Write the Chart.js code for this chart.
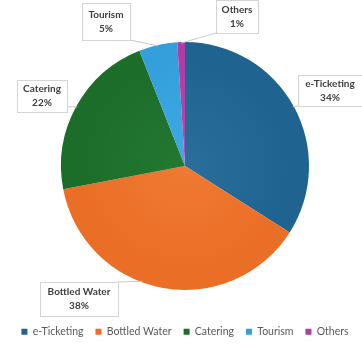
<!DOCTYPE html>
<html>
<head>
<meta charset="utf-8">
<script src="https://cdn.jsdelivr.net/npm/chart.js@4.4.1/dist/chart.umd.min.js"></script>
<style>
  html, body { margin: 0; padding: 0; background: #ffffff; }
  #wrap { width: 362px; height: 347px; position: relative; }
</style>
</head>
<body>
<div id="wrap"><canvas id="c"></canvas></div>
<script>
// Revenue share by business segment (%)
const segments = ['e-Ticketing', 'Bottled Water', 'Catering', 'Tourism', 'Others'];
const shares = [34, 38, 22, 5, 1];
const segmentColors = ['#1f6390', '#ea6e26', '#1c6d29', '#33a0dc', '#b23ca5'];
const segmentInner = ['#2a6f9c', '#f07a33', '#237832', '#3eaae4', '#bb47ae'];

// Callout boxes: box rectangle and where along the slice the leader line lands (0..1)
const callouts = [
  { x: 298, y: 75,  w: 64, h: 31, at: 0.5 },
  { x: 40,  y: 282, w: 78, h: 34, at: 0.57 },
  { x: 17,  y: 80,  w: 50, h: 32, at: 0.5 },
  { x: 82,  y: 3,   w: 48, h: 37, at: 0.5 },
  { x: 216, y: 0,   w: 42, h: 33, at: 0.5 }
];

// soft radial shading on each slice
function sliceFill(context) {
  const chart = context.chart;
  const i = context.dataIndex;
  const area = chart.chartArea;
  if (!area) return segmentColors[i];
  const cx = (area.left + area.right) / 2;
  const cy = (area.top + area.bottom) / 2;
  const r = Math.min(area.right - area.left, area.bottom - area.top) / 2;
  const g = chart.ctx.createRadialGradient(cx, cy, 0, cx, cy, r);
  g.addColorStop(0, segmentInner[i]);
  g.addColorStop(0.85, segmentColors[i]);
  g.addColorStop(1, segmentColors[i]);
  return g;
}

const calloutPlugin = {
  id: 'callouts',
  afterDatasetsDraw(chart) {
    const ctx = chart.ctx;
    const meta = chart.getDatasetMeta(0);
    ctx.save();
    meta.data.forEach((arc, i) => {
      const c = callouts[i];
      const p = arc.getProps(['x', 'y', 'startAngle', 'endAngle', 'outerRadius'], true);
      const a = p.startAngle + (p.endAngle - p.startAngle) * c.at;
      const ax = p.x + Math.cos(a) * (p.outerRadius - 1);
      const ay = p.y + Math.sin(a) * (p.outerRadius - 1);
      // nearest point on the box edge to the anchor
      const bx = Math.min(Math.max(ax, c.x), c.x + c.w);
      const by = Math.min(Math.max(ay, c.y), c.y + c.h);
      ctx.strokeStyle = '#c8c8c8';
      ctx.lineWidth = 1;
      ctx.beginPath();
      ctx.moveTo(bx, by);
      ctx.lineTo(ax, ay);
      ctx.stroke();
      ctx.fillStyle = '#ffffff';
      ctx.fillRect(c.x + 0.5, c.y + 0.5, c.w, c.h);
      ctx.strokeStyle = '#d4d4d4';
      ctx.strokeRect(c.x + 0.5, c.y + 0.5, c.w, c.h);
      ctx.fillStyle = '#404040';
      ctx.font = 'bold 10px Lato, "Open Sans", sans-serif';
      ctx.textAlign = 'center';
      ctx.textBaseline = 'middle';
      const cx = c.x + c.w / 2;
      const cy = c.y + c.h / 2;
      ctx.fillText(segments[i], cx, cy - 7);
      ctx.fillText(shares[i] + '%', cx, cy + 7);
    });
    ctx.restore();
  }
};

new Chart(document.getElementById('c'), {
  type: 'pie',
  data: {
    labels: segments,
    datasets: [{
      data: shares,
      backgroundColor: sliceFill,
      borderWidth: 0
    }]
  },
  options: {
    responsive: true,
    maintainAspectRatio: false,
    animation: false,
    layout: { padding: { top: 42, left: 8, right: 0, bottom: 0 } },
    plugins: {
      tooltip: { enabled: false },
      // empty spacer between the pie and the legend
      title: {
        display: true,
        position: 'bottom',
        weight: 0,
        text: '',
        font: { size: 1, lineHeight: 1 },
        padding: { top: 12, bottom: 11.5 }
      },
      legend: {
        position: 'bottom',
        labels: {
          boxWidth: 6,
          boxHeight: 6,
          padding: 12,
          color: '#595959',
          generateLabels(chart) {
            return segments.map((s, i) => ({
              text: s,
              fillStyle: segmentColors[i],
              strokeStyle: segmentColors[i],
              lineWidth: 0,
              fontColor: '#595959',
              index: i,
              datasetIndex: 0,
              hidden: false
            }));
          },
          font: { family: 'Lato, "Open Sans", sans-serif', size: 10.5 }
        }
      }
    }
  },
  plugins: [calloutPlugin]
});
</script>
</body>
</html>
